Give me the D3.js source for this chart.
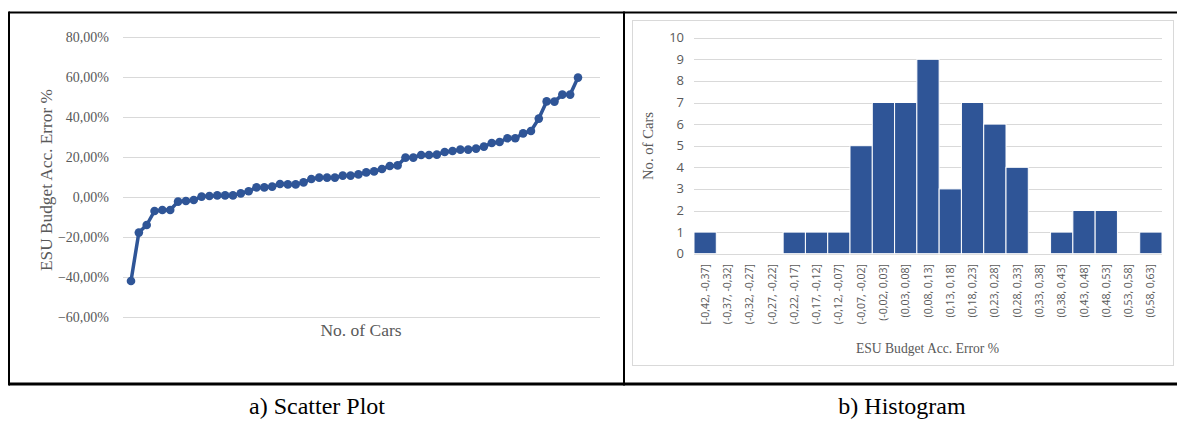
<!DOCTYPE html>
<html>
<head>
<meta charset="utf-8">
<script src="https://cdn.jsdelivr.net/npm/d3@7"></script>
<style>
  html, body { margin: 0; padding: 0; background: #fff; }
  svg { display: block; }
</style>
</head>
<body>
<svg id="fig" width="1177" height="421"></svg>
<script>
// Budget accuracy error per car (%), sorted ascending
const carErrors = [-42, -17.8, -14, -7, -6.5, -6.5, -2.3, -2, -1.5, 0.2, 0.5, 0.8, 0.8, 0.8, 1.8, 2.9,
  4.8, 4.8, 5.2, 6.5, 6.3, 6.3, 7.3, 9, 9.7, 9.7, 9.7, 10.7, 10.7, 11.3, 12.3, 12.8, 14, 15.5, 15.8,
  19.7, 19.7, 21, 21, 21.2, 22.5, 23, 23.7, 23.7, 24.2, 25.2, 27, 27.5, 29.4, 29.4, 31.8, 33, 39.2,
  47.8, 47.7, 51.2, 51.2, 59.7];
const scatterTicks = [-60, -40, -20, 0, 20, 40, 60, 80];

// Histogram bins and counts
const binLabels = ["[-0,42, -0,37]", "(-0,37, -0,32]", "(-0,32, -0,27]", "(-0,27, -0,22]", "(-0,22, -0,17]",
  "(-0,17, -0,12]", "(-0,12, -0,07]", "(-0,07, -0,02]", "(-0,02, 0,03]", "(0,03, 0,08]", "(0,08, 0,13]",
  "(0,13, 0,18]", "(0,18, 0,23]", "(0,23, 0,28]", "(0,28, 0,33]", "(0,33, 0,38]", "(0,38, 0,43]",
  "(0,43, 0,48]", "(0,48, 0,53]", "(0,53, 0,58]", "(0,58, 0,63]"];
const binCounts = [1, 0, 0, 0, 1, 1, 1, 5, 7, 7, 9, 3, 7, 6, 4, 0, 1, 2, 2, 0, 1];
const histTicks = [0, 1, 2, 3, 4, 5, 6, 7, 8, 9, 10];

const BLUE = "#2f5597";
const GRID = "#d9d9d9";
const LABEL = "#595959";
const SERIF = "'Liberation Serif', 'DejaVu Serif', serif";
const SANS = "'Open Sans', 'Noto Sans', sans-serif";

const svg = d3.select("#fig");
const locale = d3.formatLocale({ decimal: ",", thousands: ".", grouping: [3], currency: ["", "€"] });
const pct = v => locale.format(".2f")(v) + "%";

// ---------- frame ----------
svg.append("line").attr("x1", 9).attr("x2", 1177).attr("y1", 12.5).attr("y2", 12.5)
  .attr("stroke", "#000").attr("stroke-width", 2);
svg.append("line").attr("x1", 9).attr("x2", 1177).attr("y1", 384).attr("y2", 384)
  .attr("stroke", "#000").attr("stroke-width", 3);
svg.append("line").attr("x1", 9).attr("x2", 9).attr("y1", 11.5).attr("y2", 385.5)
  .attr("stroke", "#000").attr("stroke-width", 2);
svg.append("line").attr("x1", 624).attr("x2", 624).attr("y1", 11.5).attr("y2", 385.5)
  .attr("stroke", "#000").attr("stroke-width", 2);

// ---------- a) scatter / line plot ----------
const ly = d3.scaleLinear().domain([-60, 80]).range([317, 37]);
const lx = d3.scalePoint().domain(d3.range(carErrors.length)).range([131, 578]);

const gA = svg.append("g");
gA.append("g").selectAll("line").data(scatterTicks).join("line")
  .attr("x1", 123).attr("x2", 600)
  .attr("y1", d => Math.round(ly(d)) + 0.5).attr("y2", d => Math.round(ly(d)) + 0.5)
  .attr("stroke", GRID).attr("stroke-width", 1);
gA.append("g").selectAll("text").data(scatterTicks).join("text")
  .attr("x", 109).attr("y", d => ly(d) + 4.8)
  .attr("text-anchor", "end").attr("fill", LABEL)
  .style("font-family", SERIF).style("font-size", "14px")
  .text(d => pct(d));

gA.append("path").datum(carErrors)
  .attr("fill", "none").attr("stroke", BLUE).attr("stroke-width", 3.5)
  .attr("stroke-linejoin", "round")
  .attr("d", d3.line().x((d, i) => lx(i)).y(d => ly(d)));
gA.append("g").selectAll("circle").data(carErrors).join("circle")
  .attr("cx", (d, i) => lx(i)).attr("cy", d => ly(d)).attr("r", 4.3)
  .attr("fill", BLUE);

gA.append("text").attr("transform", "translate(52,180) rotate(-90)")
  .attr("text-anchor", "middle").attr("fill", LABEL)
  .style("font-family", SERIF).style("font-size", "17.3px")
  .text("ESU Budget Acc. Error %");
gA.append("text").attr("x", 361).attr("y", 336)
  .attr("text-anchor", "middle").attr("fill", LABEL)
  .style("font-family", SERIF).style("font-size", "17.5px")
  .text("No. of Cars");

// ---------- b) histogram ----------
const gB = svg.append("g");
gB.append("rect").attr("x", 632.5).attr("y", 20.5).attr("width", 541).attr("height", 345)
  .attr("fill", "#fff").attr("stroke", GRID).attr("stroke-width", 1);

const hx = d3.scaleBand().domain(binLabels).range([694, 1162]).padding(0);
const hy = d3.scaleLinear().domain([0, 10]).range([253.7, 37.7]);

gB.append("g").selectAll("line").data(histTicks).join("line")
  .attr("x1", 694).attr("x2", 1162)
  .attr("y1", d => Math.round(hy(d)) + 0.5).attr("y2", d => Math.round(hy(d)) + 0.5)
  .attr("stroke", GRID).attr("stroke-width", 1);
gB.append("g").selectAll("text").data(histTicks).join("text")
  .attr("x", 684).attr("y", d => hy(d) + 4.5)
  .attr("text-anchor", "end").attr("fill", LABEL)
  .style("font-family", SANS).style("font-size", "13px")
  .text(d => d);

gB.append("g").selectAll("rect").data(binCounts).join("rect")
  .attr("x", (d, i) => hx(binLabels[i]))
  .attr("width", hx.bandwidth())
  .attr("y", d => hy(d))
  .attr("height", d => hy(0) - hy(d))
  .attr("fill", BLUE).attr("stroke", "#fff").attr("stroke-width", 1)
  .attr("visibility", d => d > 0 ? "visible" : "hidden");

gB.append("g").selectAll("text").data(binLabels).join("text")
  .attr("transform", d => `translate(${hx(d) + hx.bandwidth() / 2 + 3.5},264) rotate(-90)`)
  .attr("text-anchor", "end").attr("fill", LABEL)
  .style("font-family", SANS).style("font-size", "10.5px")
  .text(d => d);

gB.append("text").attr("transform", "translate(653,146) rotate(-90)")
  .attr("text-anchor", "middle").attr("fill", LABEL)
  .style("font-family", SERIF).style("font-size", "14.7px")
  .text("No. of Cars");
gB.append("text").attr("x", 927.5).attr("y", 353)
  .attr("text-anchor", "middle").attr("fill", LABEL)
  .style("font-family", SERIF).style("font-size", "13.6px")
  .text("ESU Budget Acc. Error %");

// ---------- captions ----------
svg.append("text").attr("x", 317).attr("y", 414).attr("text-anchor", "middle")
  .style("font-family", SERIF).style("font-size", "24px").attr("fill", "#000")
  .text("a) Scatter Plot");
svg.append("text").attr("x", 902).attr("y", 414).attr("text-anchor", "middle")
  .style("font-family", SERIF).style("font-size", "24px").attr("fill", "#000")
  .text("b) Histogram");
</script>
</body>
</html>
